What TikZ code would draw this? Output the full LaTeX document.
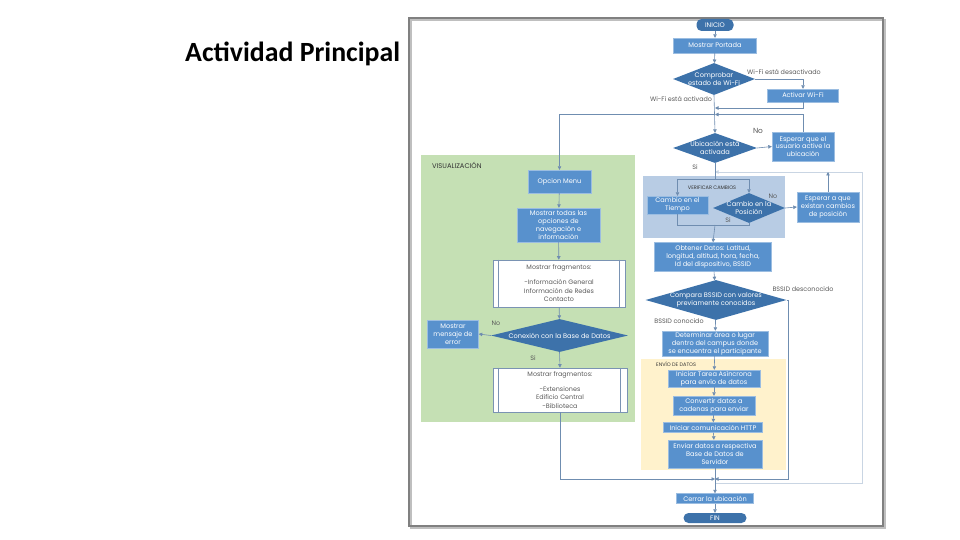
\documentclass[tikz,border=0pt]{standalone}
\usepackage{fontspec}
\setmainfont{Poppins}
\newfontfamily\titlefont{Carlito}
\usetikzlibrary{shapes.geometric,arrows.meta}
\definecolor{boxblue}{HTML}{5891CD}
\definecolor{diablue}{HTML}{3D72AA}
\definecolor{linec}{HTML}{6F8DB0}
\definecolor{faintc}{HTML}{C9D5E3}
\definecolor{greenc}{HTML}{C5E0B4}
\definecolor{bluegrp}{HTML}{B8CCE4}
\definecolor{yellowc}{HTML}{FFF2CC}
\definecolor{framec}{HTML}{808080}
\definecolor{labc}{HTML}{595959}
\definecolor{fragc}{HTML}{7A93B3}
\tikzset{
  box/.style={rectangle, fill=boxblue, draw=boxblue!60!white, line width=0.4pt, text=white,
    font=\fontsize{6.6}{7.8}\selectfont, align=center, inner sep=1pt},
  dia/.style={diamond, fill=diablue, draw=none, inner sep=0pt},
  dtext/.style={text=white, font=\fontsize{6.6}{7.8}\selectfont, align=center, inner sep=0pt},
  pill/.style={rectangle, rounded corners=5pt, fill=diablue, text=white,
    font=\fontsize{6.6}{7.8}\selectfont, inner sep=0pt},
  frag/.style={rectangle, fill=white, draw=fragc, line width=0.6pt, text=labc,
    font=\fontsize{6.4}{8.5}\selectfont, align=center, inner sep=1pt},
  fragin/.style={draw=fragc, line width=0.5pt},
  grp/.style={rectangle, draw=none, inner sep=0pt},
  glabel/.style={text=black!80, font=\fontsize{5}{6}\selectfont, inner sep=0pt},
  elabel/.style={text=labc, font=\fontsize{6.4}{7.5}\selectfont, inner sep=0pt},
  conn/.style={draw=linec, line width=0.6pt},
  arr/.style={conn, -{Triangle[length=3.5pt,width=3.5pt]}},
  faint/.style={draw=faintc, line width=0.7pt, -{Triangle[length=3.5pt,width=3.5pt]}},
  ttl/.style={font=\titlefont\bfseries\fontsize{27.8}{31}\selectfont, inner sep=0pt}
}
\begin{document}
\begin{tikzpicture}[x=1pt,y=-1pt]
\useasboundingbox (0,0) rectangle (960,540);
\fill[white] (0,0) rectangle (960,540);

% title
\node[ttl, anchor=west] (title) at (185,54) {Actividad Principal};

% frame
\draw[black!25, line width=2pt] (411,20) rectangle (885,528);
\draw[framec, line width=1.2pt] (409,18) rectangle (883,526);

% groups
\node[grp, fill=greenc, anchor=north west, minimum width=214pt, minimum height=267pt] (gvis) at (421,155) {};
\node[glabel, anchor=west, font=\fontsize{6.8}{8}\selectfont] (gvisL) at (432,165) {VISUALIZACIÓN};
\node[grp, fill=bluegrp, anchor=north west, minimum width=142pt, minimum height=62pt] (gver) at (643,176) {};
\node[glabel] (gverL) at (712,188) {VERIFICAR CAMBIOS};
\node[grp, fill=yellowc, anchor=north west, minimum width=145pt, minimum height=111pt] (genv) at (641,359) {};
\node[glabel, anchor=west] (genvL) at (656,364) {ENVÍO DE DATOS};

% main column
\node[pill, minimum width=37pt, minimum height=12pt] (inicio) at (715,25) {INICIO};
\node[box, minimum width=83pt, minimum height=15pt] (portada) at (715,45.5) {Mostrar Portada};
\node[dia, minimum width=82pt, minimum height=32pt, label={[dtext]center:Comprobar\\estado de Wi-Fi}] (comp) at (714,79) {};
\node[box, minimum width=71pt, minimum height=13pt] (activar) at (803,95.5) {Activar Wi-Fi};
\node[dia, minimum width=84pt, minimum height=30pt, label={[dtext]center:Ubicación está\\activada}] (ubic) at (715,148) {};
\node[box, minimum width=62pt, minimum height=29pt] (esp1) at (803,146.5) {Esperar que el\\usuario active la\\ubicación};
\node[box, minimum width=61pt, minimum height=18pt] (tiempo) at (677.5,205) {Cambio en el\\Tiempo};
\node[dia, minimum width=72pt, minimum height=30pt, label={[dtext]center:Cambio en la\\Posición}] (pos) at (749,208) {};
\node[box, minimum width=62pt, minimum height=30pt] (esp2) at (828,207) {Esperar a que\\existan cambios\\de posición};
\node[box, minimum width=117pt, minimum height=29pt] (obt) at (713,257) {Obtener Datos: Latitud,\\longitud, altitud, hora, fecha,\\Id del dispositivo, BSSID};
\node[dia, minimum width=141pt, minimum height=40pt, label={[dtext]center:Compara BSSID con valores\\previamente conocidos}] (bssid) at (716,300) {};
\node[box, minimum width=106pt, minimum height=25pt] (det) at (715,343.5) {Determinar área o lugar\\dentro del campus donde\\se encuentra el participante};
\node[box, minimum width=92pt, minimum height=17pt] (ini) at (714,378.5) {Iniciar Tarea Asíncrona\\para envío de datos};
\node[box, minimum width=82pt, minimum height=19pt] (conv) at (714,405.5) {Convertir datos a\\cadenas para enviar};
\node[box, minimum width=99pt, minimum height=10pt] (http) at (713,427.5) {Iniciar comunicación HTTP};
\node[box, minimum width=94pt, minimum height=28pt] (env) at (715,454) {Enviar datos a respectiva\\Base de Datos de\\Servidor};
\node[box, minimum width=77pt, minimum height=10pt] (cerrar) at (715,498.5) {Cerrar la ubicación};
\node[pill, minimum width=63pt, minimum height=10pt] (fin) at (715,518) {FIN};

% visualization column
\node[box, minimum width=63pt, minimum height=23pt] (menu) at (559.5,181.5) {Opcion Menu};
\node[box, minimum width=83pt, minimum height=34pt] (todas) at (558.5,225) {Mostrar todas las\\opciones de\\navegación e\\información};
\node[frag, minimum width=132pt, minimum height=47pt] (frag1) at (559,283.5) {Mostrar fragmentos:\\[6.5pt]-Información General\\Información de Redes\\Contacto};
\node[dia, minimum width=137pt, minimum height=33pt, label={[dtext]center:Conexión con la Base de Datos}] (con) at (559.5,335.5) {};
\node[box, minimum width=51pt, minimum height=28pt] (err) at (453,334) {Mostrar\\mensaje de\\error};
\node[frag, minimum width=134pt, minimum height=44pt] (frag2) at (560,390) {Mostrar fragmentos:\\[6pt]-Extensiones\\Edificio Central\\-Biblioteca};
\draw[fragin] ([xshift=6pt]frag1.north west) -- ([xshift=6pt]frag1.south west);
\draw[fragin] ([xshift=-6pt]frag1.north east) -- ([xshift=-6pt]frag1.south east);
\draw[fragin] ([xshift=6pt]frag2.north west) -- ([xshift=6pt]frag2.south west);
\draw[fragin] ([xshift=-7pt]frag2.north east) -- ([xshift=-7pt]frag2.south east);

% edge labels
\node[elabel] (lDes) at (784,72) {Wi-Fi está desactivado};
\node[elabel] (lAct) at (681,99) {Wi-Fi está activado};
\node[elabel, font=\fontsize{7.4}{8}\selectfont] (lNo1) at (758,131) {No};
\node[elabel] (lSi1) at (695,167) {Si};
\node[elabel] (lNo2) at (773,196) {No};
\node[elabel] (lSi2) at (728,220) {Si};
\node[elabel] (lBd) at (803,289) {BSSID desconocido};
\node[elabel] (lBc) at (679,321) {BSSID conocido};
\node[elabel] (lNo3) at (496,323) {No};
\node[elabel] (lSi3) at (533,358) {Si};

% junctions
\coordinate (j1) at (715,108);
\coordinate (j2) at (715,114.5);
\coordinate (jv) at (715,172);
\coordinate (js) at (715,179);
\coordinate (jb) at (715,225);
\coordinate (jm) at (715,479);
\coordinate (jl) at (715,483);
\coordinate (cr) at (862,172);
\coordinate (cb) at (788,300);

% connectors
\draw[faint] (jl) -| (cr) -- (jv);
\draw[arr] (inicio) -- (portada);
\draw[arr] (portada) -- (comp);
\draw[arr] (comp.east) -| (activar.north);
\draw[arr] (activar.south) |- (j1);
\draw[arr] (esp1.north) |- (j2);
\draw[arr] (comp.south) -- (ubic.north);
\draw[arr] (j2) -| (menu.north);
\draw[arr] (ubic.east) -- (esp1.west);
\draw[conn] (ubic.south) -- (js);
\draw[conn] (tiempo.north |- js) -- (pos.north |- js);
\draw[arr] (tiempo.north |- js) -- (tiempo.north);
\draw[arr] (pos.north |- js) -- (pos.north);
\draw[conn] (tiempo.south) |- (jb);
\draw[conn] (pos.south) |- (jb);
\draw[arr] (jb) -- (obt.north);
\draw[arr] (pos.east) -- (esp2.west);
\draw[arr] (esp2.north) -- (esp2.north |- jv);
\draw[arr] (obt) -- (bssid);
\draw[arr] (bssid) -- (det);
\draw[arr] (bssid.east) -- (cb) |- (jm);
\draw[arr] (det) -- (ini);
\draw[arr] (ini) -- (conv);
\draw[arr] (conv) -- (http);
\draw[arr] (http) -- (env);
\draw[arr] (env) -- (cerrar);
\draw[arr] (cerrar) -- (fin);
\draw[arr] (menu) -- (todas);
\draw[arr] (todas) -- (frag1);
\draw[arr] (frag1) -- (con);
\draw[arr] (con.west) -- (err.east);
\draw[arr] (con.south) -- (frag2.north);
\draw[arr] (frag2.south) |- (jm);
\end{tikzpicture}
\end{document}
